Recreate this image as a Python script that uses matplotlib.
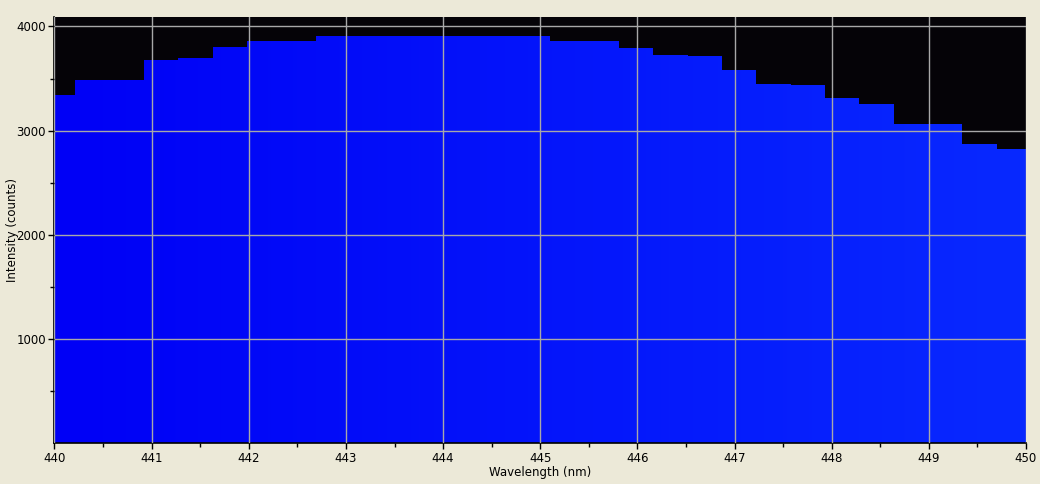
import matplotlib
matplotlib.use("Agg")
import matplotlib.pyplot as plt
import matplotlib.ticker as mticker
import numpy as np
from matplotlib.colors import LinearSegmentedColormap
from matplotlib.patches import Polygon

# Step edges (nm) and intensity per bin (counts)
edges = [440.0, 440.211, 440.921, 441.271, 441.631, 441.981, 442.692, 445.097,
         445.811, 446.161, 446.518, 446.871, 447.221, 447.582, 447.932, 448.282,
         448.642, 449.342, 449.702, 450.0]
counts = [3345, 3487, 3678, 3697, 3802, 3859, 3907, 3859, 3792, 3725, 3716,
          3582, 3448, 3438, 3314, 3257, 3066, 2875, 2828]

x_ticks = [440, 441, 442, 443, 444, 445, 446, 447, 448, 449, 450]
y_ticks = [1000, 2000, 3000, 4000]

bg = "#ECE9D8"
plot_bg = "#050307"
grid = "#A8A8A8"

fig = plt.figure(figsize=(10.4, 4.84), dpi=100)
fig.patch.set_facecolor(bg)
ax = fig.add_axes([0.0524, 0.0837, 0.9341, 0.8812])
ax.set_facecolor(plot_bg)

ymin, ymax = 0, 4090
ax.set_xlim(edges[0], edges[-1])
ax.set_ylim(ymin, ymax)

# step outline -> polygon used to clip a horizontal blue gradient
xs, ys = [edges[0]], [ymin]
for i, v in enumerate(counts):
    xs += [edges[i], edges[i + 1]]
    ys += [v, v]
xs.append(edges[-1])
ys.append(ymin)
poly = Polygon(np.column_stack([xs, ys]), closed=True, facecolor="none",
               edgecolor="none", transform=ax.transData)
ax.add_patch(poly)

cmap = LinearSegmentedColormap.from_list("blues", ["#0000F6", "#0829FF"])
grad = np.linspace(0, 1, 512).reshape(1, -1)
im = ax.imshow(grad, cmap=cmap, aspect="auto", extent=[edges[0], edges[-1], ymin, ymax],
               origin="lower", zorder=1, interpolation="bilinear")
im.set_clip_path(poly)

ax.set_xticks(x_ticks)
ax.set_yticks(y_ticks)
ax.xaxis.set_minor_locator(mticker.MultipleLocator(0.5))
ax.yaxis.set_minor_locator(mticker.FixedLocator([500, 1500, 2500, 3500]))
ax.grid(True, which="major", color=grid, linewidth=1.0, zorder=2)
ax.set_axisbelow(False)

ax.tick_params(axis="both", which="major", length=4, width=1, colors="black",
               labelsize=8.5, pad=2)
ax.tick_params(axis="both", which="minor", length=3, width=1, colors="black")

for side in ("top", "right"):
    ax.spines[side].set_visible(False)
for side in ("left", "bottom"):
    ax.spines[side].set_color("black")
    ax.spines[side].set_linewidth(1.2)

ax.set_xlabel("Wavelength (nm)", fontsize=8.5, labelpad=1)
ax.set_ylabel("Intensity (counts)", fontsize=8.5, labelpad=-2)

fig.savefig("out.png", dpi=100, facecolor=fig.get_facecolor())
